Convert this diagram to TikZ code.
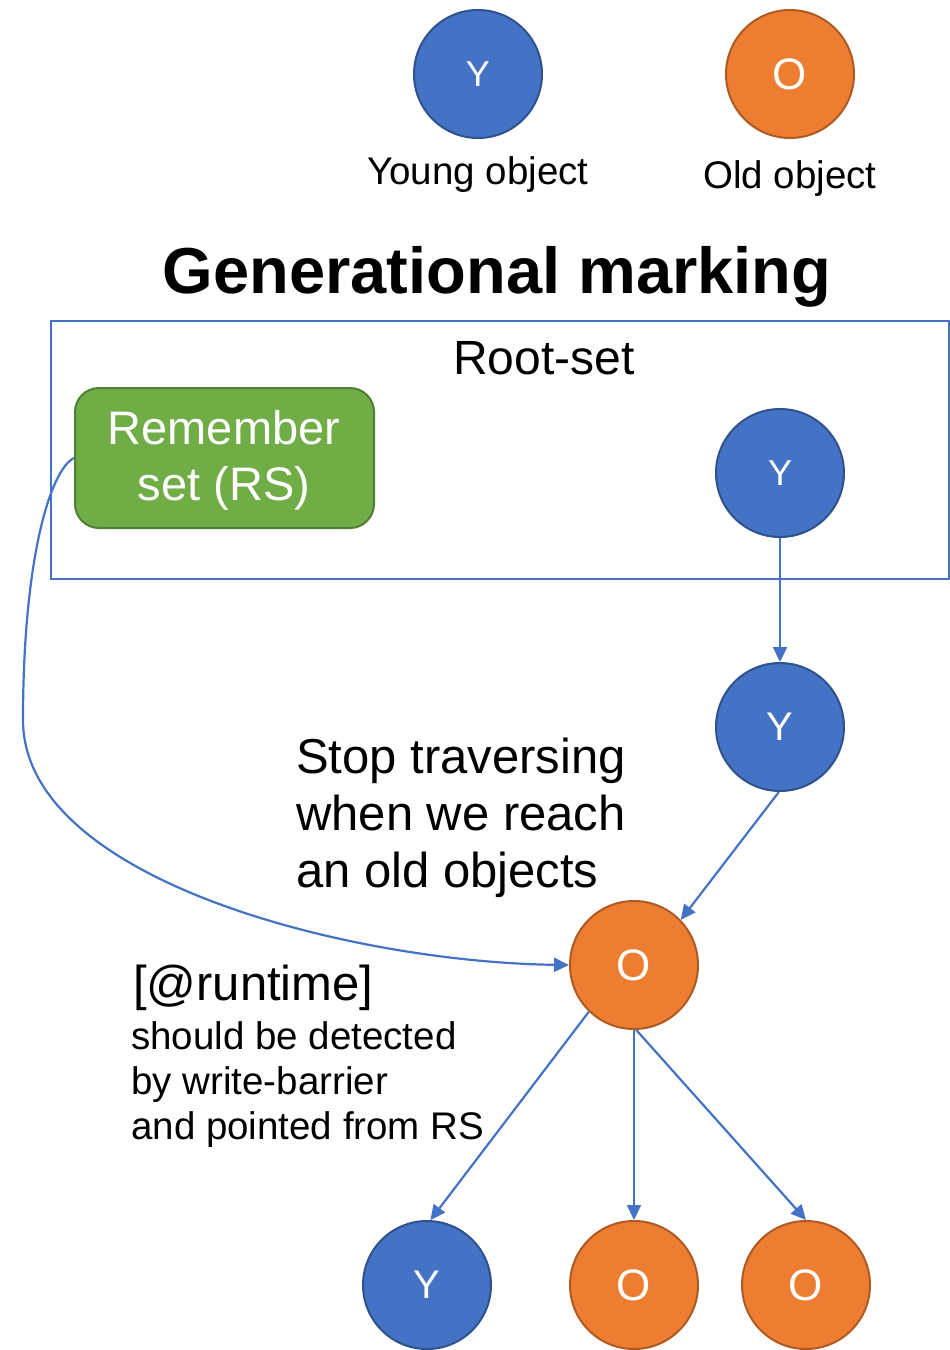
\documentclass[tikz,border=0pt]{standalone}
\usepackage{fontspec}
\setmainfont{Liberation Sans}
\usetikzlibrary{arrows.meta}
\definecolor{yblue}{HTML}{4472C4}
\definecolor{ybord}{HTML}{2F528F}
\definecolor{oor}{HTML}{ED7D31}
\definecolor{obord}{HTML}{AE5A21}
\definecolor{rsgreen}{HTML}{70AD47}
\definecolor{rsbord}{HTML}{507E32}
\tikzset{
  young/.style={circle, fill=yblue, draw=ybord, line width=2pt, minimum size=128pt, inner sep=0pt, text=white, font=\fontsize{40}{40}\selectfont},
  old/.style={circle, fill=oor, draw=obord, line width=2pt, minimum size=128pt, inner sep=0pt, text=white, font=\fontsize{44}{44}\selectfont},
  conn/.style={draw=yblue, line width=2.2pt, -{Triangle[length=15pt,width=14pt]}},
  txt/.style={anchor=base west, inner sep=0pt, text=black},
}
\begin{document}
\begin{tikzpicture}[x=1pt,y=-1pt]
\useasboundingbox (0,0) rectangle (950,1350);
% legend
\node[young, font=\fontsize{36}{36}\selectfont] (ly) at (478,74) {Y};
\node[old] (lo) at (790,74) {O};
\node[anchor=base, inner sep=0pt, font=\fontsize{38.5}{38.5}\selectfont] (lyt) at (478,184) {Young object};
\node[anchor=base, inner sep=0pt, font=\fontsize{38.5}{38.5}\selectfont] (lot) at (790,188) {Old object};
% title
\node[anchor=base, inner sep=0pt, font=\bfseries\fontsize{65}{65}\selectfont] (title) at (497,293) {Generational marking};
% root set
\node[draw=yblue, line width=2pt, minimum width=898pt, minimum height=258pt, anchor=north west, inner sep=0pt] (root) at (50,320) {};
\node[anchor=base, inner sep=0pt, font=\fontsize{48}{48}\selectfont] (roott) at (544,374) {Root-set};
\node[draw=rsbord, fill=rsgreen, line width=2pt, rounded corners=24pt, minimum width=299pt, minimum height=140pt, anchor=north west, inner sep=0pt] (rs) at (74,387) {};
\node[anchor=base, inner sep=0pt, text=white, font=\fontsize{47}{47}\selectfont] (rs1) at (224,444) {Remember};
\node[anchor=base, inner sep=0pt, text=white, font=\fontsize{47}{47}\selectfont] (rs2) at (224,500) {set (RS)};
% nodes
\node[young, font=\fontsize{36}{36}\selectfont] (y1) at (780,473) {Y};
\node[young] (y2) at (780,727) {Y};
\node[old] (o1) at (634,965) {O};
\node[young] (y3) at (427,1285) {Y};
\node[old] (o2) at (634,1285) {O};
\node[old] (o3) at (806,1285) {O};
% texts
\node[txt, font=\fontsize{49}{49}\selectfont] (s1) at (296,773) {Stop traversing};
\node[txt, font=\fontsize{49}{49}\selectfont] (s2) at (296,830) {when we reach};
\node[txt, font=\fontsize{49}{49}\selectfont] (s3) at (296,887) {an old objects};
\node[txt, font=\fontsize{49}{49}\selectfont] (r1) at (133,1000) {[@runtime]};
\node[txt, font=\fontsize{38.5}{38.5}\selectfont] (r2) at (131,1049) {should be detected};
\node[txt, font=\fontsize{38.5}{38.5}\selectfont] (r3) at (131,1094) {by write-barrier};
\node[txt, font=\fontsize{38.5}{38.5}\selectfont] (r4) at (131,1139) {and pointed from RS};
% connectors
\draw[conn] (y1.south) -- (y2.north);
\draw[conn] (y2.-91) -- (o1.44);
\draw[conn] (o1.-134) -- (y3.87);
\draw[conn] (o1.south) -- (o2.north);
\draw[conn] (o1.-88) -- (o3.north);
\coordinate (bend) at (23,720);
\draw[conn] (rs.west) .. controls (50,470) and (23,560) .. (bend) .. controls (23,880) and (350,962) .. (o1.west);
\end{tikzpicture}
\end{document}
